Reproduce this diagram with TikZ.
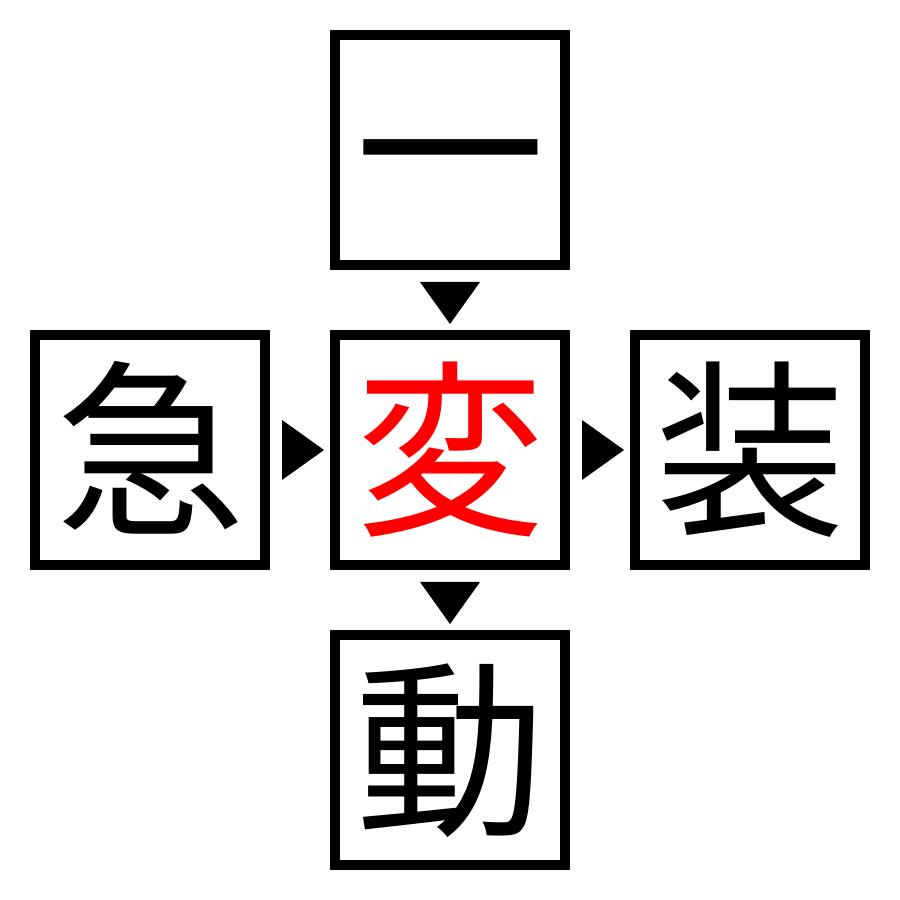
\documentclass[tikz,border=0pt]{standalone}
\usepackage{fontspec}
\newfontfamily\cjk{Noto Sans CJK JP}
\usetikzlibrary{calc}
\begin{document}
\begin{tikzpicture}[x=1pt,y=1pt,
  charbox/.style={draw, line width=10pt, minimum size=230pt, inner sep=0pt, outer sep=0pt,
    font=\cjk\fontsize{190}{190}\selectfont, text height=167pt, text depth=23pt, align=center},
  tri/.style={fill=black}]
\useasboundingbox (0,0) rectangle (900,900);
\node[charbox] (t) at (450,750) {一};
\node[charbox] (l) at (150,450) {急};
\node[charbox, text=red] (c) at (450,450) {変};
\node[charbox] (r) at (750,450) {装};
\node[charbox] (b) at (450,150) {動};
\fill[tri] ($(t.south)+(-30,-17)$) -- ($(t.south)+(30,-17)$) -- ($(c.north)+(0,11)$) -- cycle;
\fill[tri] ($(l.east)+(17,30)$) -- ($(l.east)+(17,-30)$) -- ($(c.west)+(-11,0)$) -- cycle;
\fill[tri] ($(c.east)+(17,30)$) -- ($(c.east)+(17,-30)$) -- ($(r.west)+(-11,0)$) -- cycle;
\fill[tri] ($(c.south)+(-30,-17)$) -- ($(c.south)+(30,-17)$) -- ($(b.north)+(0,11)$) -- cycle;
\end{tikzpicture}
\end{document}
